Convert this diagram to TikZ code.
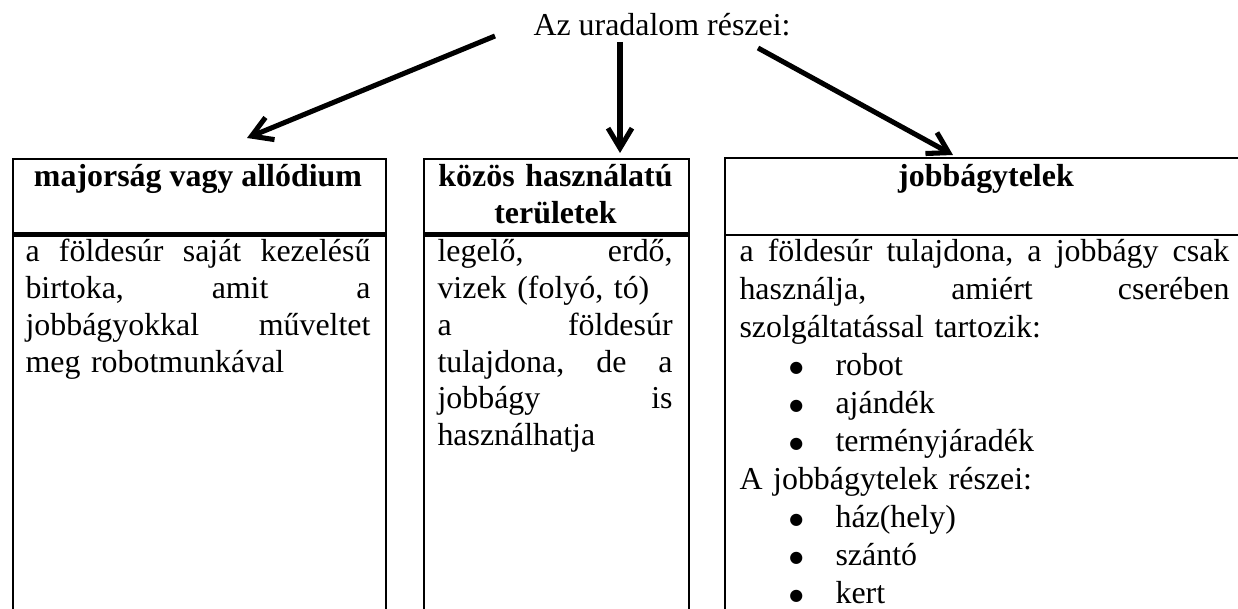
\documentclass[tikz,border=0pt]{standalone}
\usepackage{fontspec}
\setmainfont{Liberation Serif}
\newfontfamily\symfont{DejaVu Sans}
\usetikzlibrary{arrows.meta}
\setlength{\parindent}{0pt}
\newcommand{\bulitem}{\hspace*{18.7pt}\makebox[17.4pt][l]{\raisebox{1.1pt}{\symfont\fontsize{6}{6}\selectfont ●}}}
\tikzset{
  cell/.style={draw, line width=0.9pt, inner sep=0pt, anchor=north west},
  cellline/.style={line width=0.9pt},
  bodytext/.style={inner sep=0pt, anchor=base west, align=left,
    font=\fontsize{12}{13.8}\selectfont},
  headtext/.style={inner sep=0pt, anchor=base, align=center,
    font=\fontsize{12}{13.8}\selectfont\bfseries},
  titletext/.style={inner sep=0pt, anchor=base, font=\fontsize{12}{13.8}\selectfont},
  conn/.style={line width=1.9pt, -{Straight Barb[length=7.5pt,width=9pt]}},
}
\begin{document}
\begin{tikzpicture}[x=0.376pt,y=-0.376pt]
\useasboundingbox (0,0) rectangle (1238,609);

% title
\node[titletext] (title) at (662,36) {Az uradalom részei:};

% cells
\node[cell, minimum width=140.4pt, minimum height=28pt] (h1) at (11.7,158) {};
\node[cell, minimum width=140.4pt, minimum height=160pt] (b1) at (h1.south west) {};
\node[cell, minimum width=99.6pt, minimum height=28pt] (h2) at (423,158) {};
\node[cell, minimum width=99.6pt, minimum height=160pt] (b2) at (h2.south west) {};
\node[cell, draw=none, minimum width=215pt, minimum height=28pt] (h3) at (725,158) {};
\node[cell, draw=none, minimum width=215pt, minimum height=160pt] (b3) at (h3.south west) {};
\draw[cellline] (b3.south west) -- (h3.north west) -- (h3.north east);
\draw[cellline] (h3.south west) -- (h3.south east);

% headers
\node[headtext] (t1) at (198,187) {majorság vagy allódium};
\node[headtext, text width=95pt] (t2) at (555.5,187) {közös használatú\\területek};
\node[headtext] (t3) at (986,187) {jobbágytelek};

% bodies
\node[bodytext, text width=129.7pt] (x1) at (25,262)
  {a\hfill földesúr\hfill saját\hfill kezelésű\\
   birtoka,\hfill amit\hfill a\\
   jobbágyokkal\hfill műveltet\\
   meg robotmunkával};
\node[bodytext, text width=88.4pt] (x2) at (437,262)
  {legelő,\hfill erdő,\\
   vizek (folyó, tó)\\
   a\hfill földesúr\\
   tulajdona,\hfill de\hfill a\\
   jobbágy\hfill is\\
   használhatja};
\node[bodytext, text width=184.2pt, font=\fontsize{12}{14.25}\selectfont] (x3) at (739,262)
  {a\hfill földesúr\hfill tulajdona,\hfill a\hfill jobbágy\hfill csak\\
   használja,\hfill amiért\hfill cserében\\
   szolgáltatással tartozik:\\
   \bulitem robot\\
   \bulitem ajándék\\
   \bulitem terményjáradék\\
   A jobbágytelek részei:\\
   \bulitem ház(hely)\\
   \bulitem szántó\\
   \bulitem kert};

% arrows
\coordinate (a1s) at (495,36);
\coordinate (a1e) at (247,138);
\coordinate (a2s) at (620,42);
\coordinate (a2e) at (620,153);
\coordinate (a3s) at (758,48);
\coordinate (a3e) at (953,155);
\draw[conn] (a1s) -- (a1e);
\draw[conn] (a2s) -- (a2e);
\draw[conn] (a3s) -- (a3e);
\end{tikzpicture}
\end{document}
